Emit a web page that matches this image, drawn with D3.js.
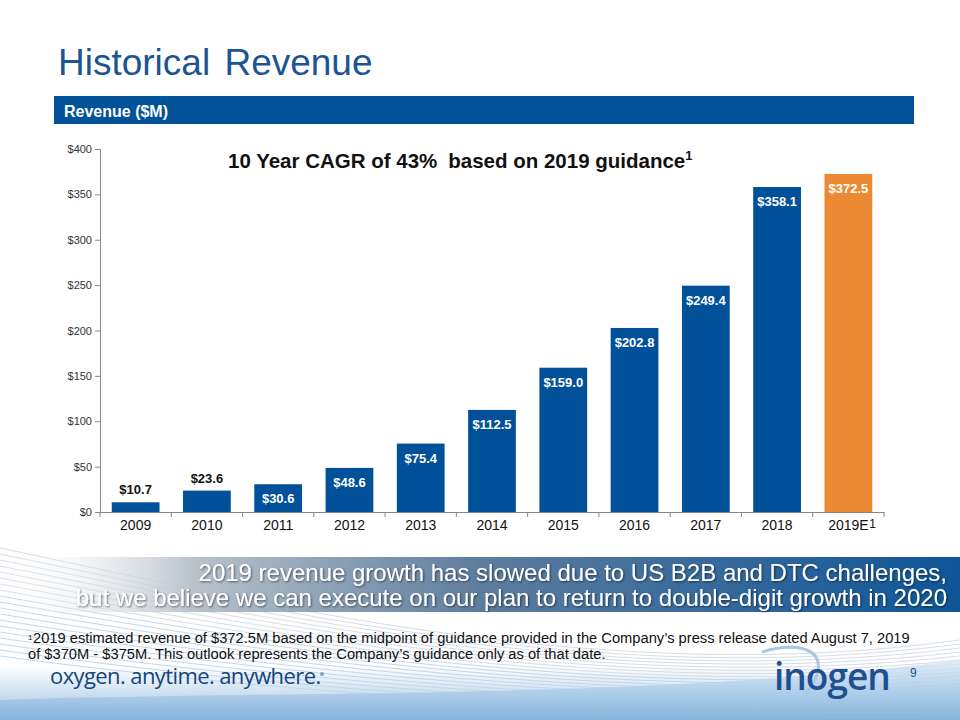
<!DOCTYPE html>
<html><head><meta charset="utf-8">
<script src="https://cdn.jsdelivr.net/npm/d3@7"></script>
<style>
body{margin:0;background:#fff;}
svg{display:block;font-family:"Liberation Sans",Arial,sans-serif;}
</style></head>
<body>
<svg id="c" width="960" height="720"></svg>
<script>
const years = ["2009","2010","2011","2012","2013","2014","2015","2016","2017","2018","2019E"];
const revenue = [10.7,23.6,30.6,48.6,75.4,112.5,159.0,202.8,249.4,358.1,372.5];
const labels = ["$10.7","$23.6","$30.6","$48.6","$75.4","$112.5","$159.0","$202.8","$249.4","$358.1","$372.5"];
const yTicks = [0,50,100,150,200,250,300,350,400];
const estimate = [false,false,false,false,false,false,false,false,false,false,true];

const svg = d3.select("#c");
const blue = "#01519a", orange = "#ec8a33";

// bottom decorative background
const defs = svg.append("defs");
const g1 = defs.append("linearGradient").attr("id","bg").attr("x1",0).attr("y1",0).attr("x2",0).attr("y2",1);
g1.append("stop").attr("offset","0%").attr("stop-color","#ffffff");
g1.append("stop").attr("offset","55%").attr("stop-color","#ffffff");
g1.append("stop").attr("offset","100%").attr("stop-color","#9cc3e3");
svg.append("rect").attr("x",0).attr("y",600).attr("width",960).attr("height",120).attr("fill","url(#bg)");
const swoosh = svg.append("g").attr("fill","none");
const lineCount = [0,1,2,3,4,5,6,7,8,9,10,11,12,13,14,15,16,17,18];
swoosh.selectAll("path").data(lineCount).join("path")
  .attr("d", i => `M0,${548+i*6} C250,${600+i*5} 600,${690+i*1.5} 960,${640+i*4}`)
  .attr("stroke", i => i<8 ? "#d6dde6" : "#c2d7ea")
  .attr("stroke-width",1);
const g3 = defs.append("linearGradient").attr("id","wave").attr("x1",0).attr("y1",0).attr("x2",0).attr("y2",1);
g3.append("stop").attr("offset","0%").attr("stop-color","#d8e8f5");
g3.append("stop").attr("offset","100%").attr("stop-color","#7fb0db");
svg.append("path").attr("d","M0,700 C300,690 650,700 960,660 L960,720 L0,720 Z").attr("fill","url(#wave)").attr("opacity",0.8);

// title
svg.append("text").attr("x",58).attr("y",75).attr("font-size",37).attr("fill","#1c5494").attr("word-spacing",4)
  .text("Historical Revenue");
svg.append("rect").attr("x",54).attr("y",96).attr("width",860).attr("height",28).attr("fill","#02529a");
svg.append("text").attr("x",64).attr("y",117).attr("font-size",16).attr("font-weight","bold").attr("fill","#fff")
  .text("Revenue ($M)");

// chart
const x = d3.scaleBand().domain(years).range([100,884]).paddingInner(0.33).paddingOuter(0.165);
const y = d3.scaleLinear().domain([0,400]).range([512,149]);

const yAxis = d3.axisLeft(y).tickValues(yTicks).tickFormat(d => "$"+d).tickSize(5);
const ga = svg.append("g").attr("transform","translate(100,0)").call(yAxis);
ga.select(".domain").attr("stroke","#888");
ga.selectAll(".tick line").attr("stroke","#888");
ga.selectAll(".tick text").attr("font-size",11).attr("fill","#333").attr("font-family","Liberation Sans, Arial");

const xScaleTicks = d3.scaleBand().domain(years).range([100,884]);
const gx = svg.append("g").attr("transform","translate(0,512)")
  .call(d3.axisBottom(x).tickSize(0).tickSizeOuter(0));
gx.select(".domain").attr("stroke","#888");
gx.selectAll(".tick text").attr("font-size",14).attr("fill","#111").attr("dy","1.1em").attr("font-family","Liberation Sans, Arial");
svg.append("g").selectAll("line").data(years.concat(["end"])).join("line")
  .attr("x1",(d,i)=> i<years.length ? xScaleTicks(d) : 884)
  .attr("x2",(d,i)=> i<years.length ? xScaleTicks(d) : 884)
  .attr("y1",512).attr("y2",517).attr("stroke","#888");
svg.append("text").attr("x",x("2019E")+x.bandwidth()/2+21).attr("y",528).attr("font-size",12).attr("fill","#111").text("1");

svg.append("g").selectAll("rect").data(revenue).join("rect")
  .attr("x",(d,i)=>x(years[i])).attr("width",x.bandwidth())
  .attr("y",d=>y(d)).attr("height",d=>512-y(d))
  .attr("fill",(d,i)=>estimate[i]?orange:blue);

svg.append("g").selectAll("text").data(revenue).join("text")
  .attr("x",(d,i)=>x(years[i])+x.bandwidth()/2)
  .attr("y",(d,i)=> i<2 ? y(d)-8 : y(d)+19)
  .attr("text-anchor","middle").attr("font-size",13).attr("font-weight","bold")
  .attr("fill",(d,i)=> i<2 ? "#111" : "#fff")
  .text((d,i)=>labels[i]);

const cagr = svg.append("text").attr("x",228).attr("y",168).attr("font-size",20.5).attr("font-weight","bold").attr("fill","#111");
cagr.append("tspan").text("10 Year CAGR of 43%");
cagr.append("tspan").attr("dx",11).text("based on 2019 guidance");
cagr.append("tspan").attr("font-size",13).attr("dy",-8).text("1");

// banner
const g2 = defs.append("linearGradient").attr("id","ban").attr("x1",0).attr("y1",0).attr("x2",1).attr("y2",0);
g2.append("stop").attr("offset","0%").attr("stop-color","#ffffff").attr("stop-opacity",0);
g2.append("stop").attr("offset","20%").attr("stop-color","#b9c3cc");
g2.append("stop").attr("offset","50%").attr("stop-color","#5d7d9e");
g2.append("stop").attr("offset","100%").attr("stop-color","#0e5598");
svg.append("rect").attr("x",0).attr("y",557).attr("width",960).attr("height",55).attr("fill","url(#ban)");
const sh = defs.append("filter").attr("id","sh").attr("x","-5%").attr("y","-20%").attr("width","110%").attr("height","140%");
sh.append("feDropShadow").attr("dx",1).attr("dy",1).attr("stdDeviation",0.8).attr("flood-color","#000").attr("flood-opacity",0.55);
const bannerLines = ["2019 revenue growth has slowed due to US B2B and DTC challenges,",
  "but we believe we can execute on our plan to return to double-digit growth in 2020"];
svg.append("g").attr("filter","url(#sh)").selectAll("text").data(bannerLines).join("text")
  .attr("x",947).attr("y",(d,i)=>581+i*25).attr("text-anchor","end").attr("font-size",24).attr("fill","#fff")
  .text(d=>d);

// footnote
const foot = ["2019 estimated revenue of $372.5M based on the midpoint of guidance provided in the Company’s press release dated August 7, 2019",
  "of $370M - $375M. This outlook represents the Company’s guidance only as of that date."];
const ft = svg.append("g");
ft.append("text").attr("x",28).attr("y",640).attr("font-size",8).attr("fill","#111").text("1");
ft.append("text").attr("x",33).attr("y",643).attr("font-size",14.7).attr("fill","#111").text(foot[0]);
ft.append("text").attr("x",28).attr("y",659).attr("font-size",14.7).attr("fill","#111").text(foot[1]);

// slogan & logo
svg.append("text").attr("x",50).attr("y",684).attr("font-family","Open Sans, Lato, sans-serif").attr("font-size",22).attr("fill","#15447f").attr("letter-spacing",-0.6)
  .text("oxygen. anytime. anywhere.");
svg.append("circle").attr("cx",322).attr("cy",674).attr("r",2).attr("fill","#7aa3cc");
svg.append("path").attr("d","M762,652 C800,640 840,650 805,695").attr("fill","none").attr("stroke","#aac6e3").attr("stroke-width",3);
svg.append("text").attr("x",774).attr("y",690).attr("font-family","Open Sans, Lato, sans-serif").attr("font-size",37).attr("font-weight","600").attr("fill","#1f4f8f").attr("letter-spacing",-1)
  .text("inogen");
svg.append("text").attr("x",910).attr("y",677).attr("font-size",12).attr("fill","#1f4f8f").text("9");
</script>
</body></html>
